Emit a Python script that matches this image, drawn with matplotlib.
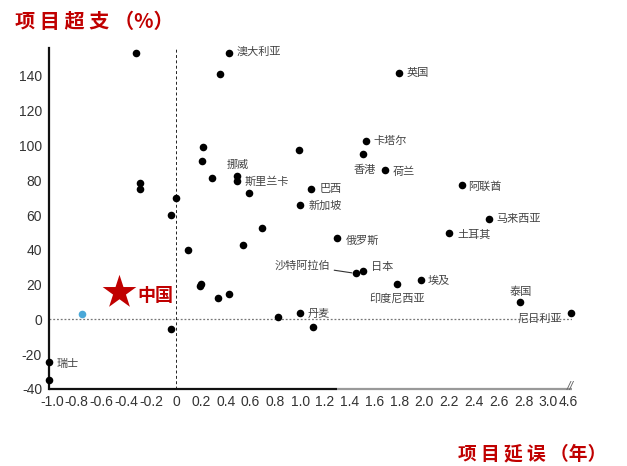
import numpy as np
import matplotlib
matplotlib.use("Agg")
import matplotlib.pyplot as plt

plt.rcParams["font.family"] = ["Liberation Sans", "Noto Sans CJK SC", "DejaVu Sans"]
plt.rcParams["axes.unicode_minus"] = False

# Data
# labelled countries: project delay (years), project overrun (%)
countries = ["澳大利亚", "英国", "卡塔尔", "香港", "荷兰", "挪威", "斯里兰卡", "巴西",
             "新加坡", "阿联酋", "马来西亚", "土耳其", "俄罗斯", "沙特阿拉伯", "日本",
             "埃及", "印度尼西亚", "泰国", "尼日利亚", "丹麦", "瑞士"]
delay = [0.43, 1.80, 1.53, 1.51, 1.68, 0.49, 0.49, 1.09,
         1.00, 2.30, 2.52, 2.20, 1.30, 1.45, 1.51,
         1.97, 1.78, 2.77, 4.8, 1.00, -1.02]
overrun = [153.4, 141.4, 102.3, 94.8, 85.6, 82.2, 79.3, 74.7,
           65.5, 77.0, 58.0, 49.4, 46.6, 26.4, 27.6,
           22.4, 20.1, 9.8, 3.4, 3.4, -24.7]

# unlabelled projects
other_delay = [-0.32, 0.35, 0.99, 0.22, 0.21, 0.29, 0.59, 0.69, 0.54, 0.10, 0.19,
               0.20, 0.34, 0.43, -0.04, 0.82, 1.10, -1.02, -0.29, -0.29, 0.0, -0.04]
other_overrun = [153.4, 140.8, 97.1, 98.9, 90.8, 81.0, 72.4, 52.3, 43.0, 39.7, 19.0,
                 20.1, 12.1, 14.4, -5.7, 1.1, -4.6, -35.0, 78.2, 74.7, 69.5, 59.8]

blue_delay, blue_overrun = [-0.76], [2.9]
china_delay, china_overrun = [-0.46], [16.0]

x_ticks = [-1.0, -0.8, -0.6, -0.4, -0.2, 0, 0.2, 0.4, 0.6, 0.8, 1.0, 1.2, 1.4, 1.6,
           1.8, 2.0, 2.2, 2.4, 2.6, 2.8, 3.0, 4.6]
x_ticklabels = ["-1.0", "-0.8", "-0.6", "-0.4", "-0.2", "0", "0.2", "0.4", "0.6", "0.8",
                "1.0", "1.2", "1.4", "1.6", "1.8", "2.0", "2.2", "2.4", "2.6", "2.8",
                "3.0", "4.6"]
y_ticks = [-40, -20, 0, 20, 40, 60, 80, 100, 120, 140]

# label offsets in pixels (dx, dy, ha)
label_pos = {
    "澳大利亚": (7, 1, "left"), "英国": (7, 0, "left"), "卡塔尔": (7, 0, "left"),
    "香港": (1, -15, "center"), "荷兰": (8, -1, "left"), "挪威": (1, 11, "center"),
    "斯里兰卡": (8, 0, "left"), "巴西": (8, 0, "left"), "新加坡": (8, 0, "left"),
    "阿联酋": (7, -1, "left"), "马来西亚": (8, 0, "left"), "土耳其": (8, -1, "left"),
    "俄罗斯": (8, -2, "left"), "沙特阿拉伯": (-26, 8, "right"), "日本": (8, 4, "left"),
    "埃及": (7, -1, "left"), "印度尼西亚": (0, -14, "center"), "泰国": (1, 11, "center"),
    "尼日利亚": (-9, -5, "right"), "丹麦": (7, 0, "left"), "瑞士": (7, -2, "left"),
}


# broken x axis: everything past 3.0 is squeezed
def fwd(x):
    x = np.asarray(x, dtype=float)
    return np.where(x <= 3.0, x, 3.0 + (x - 3.0) * 0.1)


def inv(x):
    x = np.asarray(x, dtype=float)
    return np.where(x <= 3.0, x, 3.0 + (x - 3.0) / 0.1)


fig = plt.figure(figsize=(6.27, 4.66), dpi=100)
ax = fig.add_axes([49 / 627, (466 - 389) / 466, (572 - 49) / 627, (389 - 48) / 466])
ax.set_xscale("function", functions=(fwd, inv))
ax.set_xlim(-1.024, 4.9)
ax.set_ylim(-40, 156)

ax.axhline(0, color="#777777", lw=0.9, ls=(0, (1.5, 1.5)), zorder=1)
ax.axvline(0, color="#222222", lw=0.7, ls=(0, (3, 2.5)), zorder=1)

dot = dict(s=30, color="black", zorder=3, clip_on=False, linewidths=0)
ax.scatter(other_delay, other_overrun, **dot)
ax.scatter(delay, overrun, **dot)
ax.scatter(blue_delay, blue_overrun, s=30, color="#4aa8d8", zorder=3, linewidths=0)
ax.scatter(china_delay, china_overrun, marker="*", s=650, color="#c00000",
           zorder=4, linewidths=0)
ax.annotate("中国", (china_delay[0], china_overrun[0]), xytext=(18, -4),
            textcoords="offset pixels", ha="left", va="center", fontsize=13,
            fontweight="bold", color="#c00000", family=["Noto Sans CJK SC"])

for name, x, y in zip(countries, delay, overrun):
    dx, dy, ha = label_pos[name]
    kw = dict(xytext=(dx, dy), textcoords="offset pixels", ha=ha, va="center",
              fontsize=8, color="#444444", family=["Noto Sans CJK SC"])
    if name == "沙特阿拉伯":
        kw["arrowprops"] = dict(arrowstyle="-", color="#333333", lw=0.8,
                                relpos=(1.0, 0.1), shrinkA=1, shrinkB=3)
    ax.annotate(name, (x, y), **kw)

# axes lines
for s in ["top", "right", "bottom"]:
    ax.spines[s].set_visible(False)
ax.spines["left"].set_linewidth(1.6)
ax.spines["left"].set_color("#111111")
ax.plot([-1.024, 1.3], [-40, -40], color="#111111", lw=1.6, clip_on=False,
        solid_capstyle="butt", zorder=2)
ax.plot([1.3, 4.9], [-40, -40], color="#999999", lw=1.6, clip_on=False,
        solid_capstyle="butt", zorder=2)
ax.text(4.75, -39, "//", ha="center", va="center", fontsize=9, color="#666666",
        style="italic")

ax.set_xticks(x_ticks)
ax.set_xticklabels(x_ticklabels)
ax.set_yticks(y_ticks)
ax.tick_params(length=0, labelsize=10, colors="#333333")
ax.tick_params(axis="x", pad=4)
ax.tick_params(axis="y", pad=5)

fig.text(15 / 627, 1 - 21 / 466, "项 目 超 支 （%）", fontsize=14.5, fontweight="bold",
         color="#c00000", ha="left", va="center", family=["Noto Sans CJK SC"])
fig.text(458 / 627, 1 - 454 / 466, "项 目 延 误 （年）", fontsize=13.5, fontweight="bold",
         color="#c00000", ha="left", va="center", family=["Noto Sans CJK SC"])

fig.savefig("out.png", dpi=100)
